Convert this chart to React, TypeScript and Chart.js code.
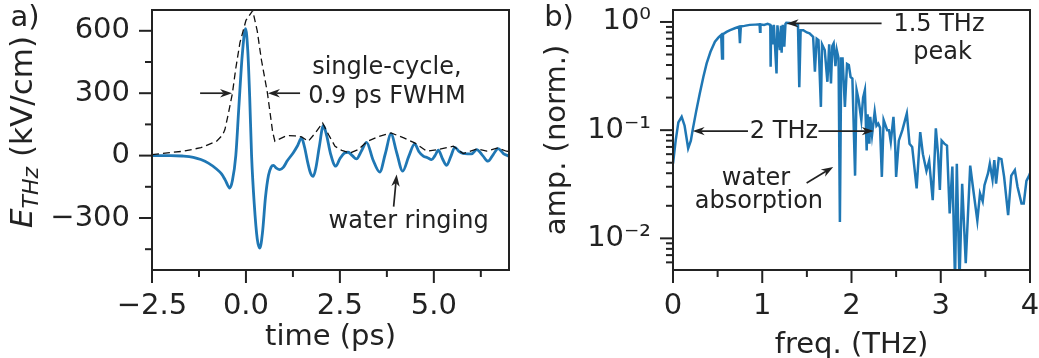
import React, { useEffect, useRef } from 'react';
import { Chart, registerables } from 'chart.js';

Chart.register(...registerables);

const INK = '#222222';
const BLUE = '#1f77b4';
const FONT = "'DejaVu Sans', sans-serif";
const TICK_SIZE = 29;
const NOTE_SIZE = 24;
const YTITLE_A_SIZE = 31;

// ---------- panel a: time-domain field ----------
const timePs = [
  -2.5, -2.0, -1.7, -1.4, -1.2, -1.0, -0.8, -0.65, -0.55, -0.43, -0.36, -0.27, -0.19, -0.1, -0.01,
  0.05, 0.1, 0.15, 0.22, 0.3, 0.37, 0.44, 0.52, 0.6, 0.67, 0.73, 0.81, 0.9, 1.0, 1.1, 1.26, 1.38,
  1.48, 1.56, 1.64, 1.72, 1.79, 1.86, 1.95, 2.06, 2.15, 2.25, 2.39, 2.5, 2.62, 2.72, 2.83, 2.94,
  3.08, 3.21, 3.38, 3.56, 3.71, 3.86, 4.01, 4.17, 4.33, 4.49, 4.6, 4.72, 4.83, 4.94, 5.03, 5.12,
  5.23, 5.34, 5.45, 5.56, 5.67, 5.78, 5.9, 6.0, 6.14, 6.3, 6.44, 6.58, 6.71, 6.85, 7.0,
];
const fieldKVcm = [
  0, 0, -2, -8, -19, -36, -62, -88, -118, -156, -120, 0, 230, 480, 610,
  500, 280, 0, -230, -400, -445, -370, -200, -95, -55, -47, -60, -67, -55, -25, 14, 50,
  85, 40, -30, -85, -100, -60, 40, 144, 95, 10, -51, -15, 12, 16, 0, -16,
  25, 64, -20, -79, 10, 104, 15, -75, -5, 56, 20, -3, -10, -19, 0, 26,
  -15, -47, -5, 40, 20, 10, 8, 8, 29, 0, -27, 5, 34, 10, -3,
];
const envTimePs = [
  -2.5, -1.67, -1.2, -0.78, -0.62, -0.56, -0.47, -0.36, -0.27, -0.16, 0.0, 0.18, 0.3, 0.41,
  0.57, 0.71, 0.77, 0.9, 1.08, 1.3, 1.48, 1.66, 1.85, 2.04, 2.2, 2.37, 2.55, 2.77, 2.99, 3.21,
  3.5, 3.86, 4.2, 4.49, 4.81, 5.12, 5.52, 5.78, 6.14, 6.41, 6.71, 6.93, 7.0,
];
const envFieldKVcm = [
  5, 21, 38, 69, 100, 125, 200, 300, 420, 543, 650, 697, 600, 462,
  303, 114, 69, 80, 96, 95, 90, 69, 110, 157, 100, 45, 25, 13, 29, 66,
  90, 109, 85, 61, 21, 29, 45, 10, 32, 22, 37, 21, 20,
];
const timeTicks = [-2.5, 0, 2.5, 5.0];
const timeTickLabels = ['\u22122.5', '0.0', '2.5', '5.0'];
const timeMinorTicks = [-1.25, 1.25, 3.75, 6.25];
const fieldTicks = [-300, 0, 300, 600];
const fieldTickLabels = ['\u2212300', '0', '300', '600'];
const fieldMinorTicks = [-450, -150, 150, 450];

// ---------- panel b: spectrum ----------
const freqTHz = [
  0.0, 0.03, 0.06, 0.097, 0.13, 0.17, 0.2, 0.22, 0.26, 0.3, 0.34, 0.377, 0.42, 0.47, 0.51, 0.54,
  0.55, 0.56, 0.6, 0.64, 0.7, 0.74, 0.75, 0.76, 0.8, 0.86, 0.92, 0.97, 0.975, 0.98, 1.02, 1.06,
  1.09, 1.094, 1.1, 1.123, 1.13, 1.16, 1.17, 1.198, 1.21, 1.217, 1.23, 1.247, 1.26, 1.27, 1.31,
  1.36, 1.4, 1.415, 1.43, 1.46, 1.5, 1.53, 1.57, 1.59, 1.61, 1.63, 1.657, 1.67, 1.7, 1.73, 1.75,
  1.77, 1.785, 1.8, 1.82, 1.835, 1.855, 1.87, 1.885, 1.9, 1.926, 1.95, 1.97, 1.99, 2.01, 2.04,
  2.057, 2.08, 2.11, 2.13, 2.15, 2.17, 2.18, 2.2, 2.21, 2.23, 2.26, 2.28, 2.3, 2.32, 2.34, 2.36,
  2.4, 2.42, 2.44, 2.47, 2.49, 2.5, 2.53, 2.57, 2.62, 2.65, 2.68, 2.73, 2.77, 2.8, 2.84, 2.87,
  2.91, 2.945, 2.97, 2.99, 3.01, 3.04, 3.07, 3.1, 3.13, 3.16, 3.18, 3.21, 3.24, 3.26, 3.28, 3.33,
  3.36, 3.41, 3.44, 3.47, 3.49, 3.53, 3.55, 3.58, 3.6, 3.62, 3.65, 3.68, 3.71, 3.755, 3.79, 3.83,
  3.86, 3.905, 3.93, 3.96, 3.99, 4.0,
];
const ampNorm = [
  0.049, 0.08, 0.118, 0.133, 0.11, 0.068, 0.08, 0.1, 0.15, 0.218, 0.31, 0.414, 0.53, 0.657, 0.72, 0.758,
  0.46, 0.77, 0.81, 0.84, 0.88, 0.905, 0.635, 0.91, 0.92, 0.94, 0.945, 0.95, 0.81, 0.95, 0.94, 0.96,
  0.94, 0.386, 0.93, 0.635, 0.94, 0.335, 0.93, 0.55, 0.92, 0.52, 0.94, 0.59, 0.96, 0.985, 0.98,
  0.96, 0.95, 0.25, 0.84, 0.84, 0.8, 0.786, 0.73, 0.347, 0.7, 0.68, 0.164, 0.62, 0.55, 0.28, 0.62,
  0.27, 0.6, 0.635, 0.39, 0.55, 0.46, 0.0142, 0.46, 0.46, 0.164, 0.41, 0.4, 0.31, 0.3, 0.038,
  0.235, 0.19, 0.124, 0.2, 0.235, 0.065, 0.14, 0.075, 0.133, 0.09, 0.148, 0.11, 0.115, 0.105, 0.037, 0.124,
  0.1, 0.1, 0.078, 0.133, 0.07, 0.037, 0.08, 0.1, 0.143, 0.075, 0.07, 0.029, 0.096, 0.06, 0.042, 0.052,
  0.0225, 0.104, 0.06, 0.028, 0.08, 0.075, 0.072, 0.017, 0.046, 0.004, 0.049, 0.004, 0.032, 0.0138, 0.0059, 0.047,
  0.03, 0.0146, 0.026, 0.022, 0.031, 0.04, 0.049, 0.035, 0.053, 0.032, 0.055, 0.054, 0.037, 0.0164, 0.038, 0.0427,
  0.03, 0.021, 0.021, 0.034, 0.038, 0.04,
];
const freqTicks = [0, 1, 2, 3, 4];
const freqTickLabels = ['0', '1', '2', '3', '4'];
const freqMinorTicks = [0.5, 1.5, 2.5, 3.5];
const ampTicks = [0.01, 0.1, 1];
const ampTickLabels = ['10\u207B\u00B2', '10\u207B\u00B9', '10\u2070'];
const ampMinorTicks = [
  0.006, 0.007, 0.008, 0.009, 0.02, 0.03, 0.04, 0.05, 0.06, 0.07, 0.08, 0.09,
  0.2, 0.3, 0.4, 0.5, 0.6, 0.7, 0.8, 0.9,
];

type Note = { text: string; x: number; y: number };
type Arrow = { x0: number; y0: number; x1: number; y1: number };

const notesA: Note[] = [
  { text: 'single-cycle,', x: 3.75, y: 424 },
  { text: '0.9 ps FWHM', x: 3.75, y: 284 },
  { text: 'water ringing', x: 4.33, y: -318 },
];
const arrowsA: Arrow[] = [
  { x0: -1.22, y0: 300, x1: -0.37, y1: 300 },
  { x0: 1.44, y0: 300, x1: 0.585, y1: 300 },
  { x0: 3.93, y0: -245, x1: 4.01, y1: -91 },
];
const notesB: Note[] = [
  { text: '1.5 THz', x: 2.98, y: 0.938 },
  { text: 'peak', x: 3.02, y: 0.516 },
  { text: '2 THz', x: 1.243, y: 0.0958 },
  { text: 'water', x: 0.93, y: 0.0352 },
  { text: 'absorption', x: 0.963, y: 0.0216 },
];
const arrowsB: Arrow[] = [
  { x0: 2.337, y0: 0.97, x1: 1.273, y1: 0.97 },
  { x0: 0.84, y0: 0.098, x1: 0.22, y1: 0.098 },
  { x0: 1.63, y0: 0.098, x1: 2.25, y1: 0.098 },
  { x0: 1.497, y0: 0.0325, x1: 1.795, y1: 0.0457 },
];

function drawArrow(ctx: CanvasRenderingContext2D, x0: number, y0: number, x1: number, y1: number) {
  const ang = Math.atan2(y1 - y0, x1 - x0);
  const c = Math.cos(ang), s = Math.sin(ang);
  const hl = 12, hw = 4.2;
  ctx.beginPath();
  ctx.moveTo(x0, y0);
  ctx.lineTo(x1 - c * hl * 0.7, y1 - s * hl * 0.7);
  ctx.stroke();
  ctx.beginPath();
  ctx.moveTo(x1, y1);
  ctx.lineTo(x1 - hl * c + hw * s, y1 - hl * s - hw * c);
  ctx.lineTo(x1 - hl * 0.7 * c, y1 - hl * 0.7 * s);
  ctx.lineTo(x1 - hl * c - hw * s, y1 - hl * s + hw * c);
  ctx.closePath();
  ctx.fill();
}

type DecorCfg = {
  id: string;
  xMajor: number[]; xMinor: number[]; yMajor: number[]; yMinor: number[];
  notes: Note[]; arrows: Arrow[];
  label: string; labelX: number; labelY: number;
  richYTitle?: boolean;
};

function makeDecor(cfg: DecorCfg) {
  return {
    id: cfg.id,
    afterDraw(chart: any) {
      const { ctx, chartArea: a } = chart;
      const sx = chart.scales.x, sy = chart.scales.y;
      ctx.save();
      ctx.strokeStyle = INK;
      ctx.fillStyle = INK;
      ctx.lineWidth = 2;
      ctx.strokeRect(a.left, a.top, a.right - a.left, a.bottom - a.top);
      const MAJ = 13, MIN = 7;
      const seg = (x0: number, y0: number, x1: number, y1: number) => {
        ctx.beginPath(); ctx.moveTo(x0, y0); ctx.lineTo(x1, y1); ctx.stroke();
      };
      cfg.xMajor.forEach((v) => { const p = sx.getPixelForValue(v); seg(p, a.bottom, p, a.bottom + MAJ); });
      cfg.xMinor.forEach((v) => { const p = sx.getPixelForValue(v); seg(p, a.bottom, p, a.bottom + MIN); });
      cfg.yMajor.forEach((v) => { const p = sy.getPixelForValue(v); seg(a.left, p, a.left - MAJ, p); });
      cfg.yMinor.forEach((v) => { const p = sy.getPixelForValue(v); seg(a.left, p, a.left - MIN, p); });

      ctx.font = `${NOTE_SIZE}px ${FONT}`;
      ctx.textAlign = 'center';
      ctx.textBaseline = 'middle';
      cfg.notes.forEach((n) => ctx.fillText(n.text, sx.getPixelForValue(n.x), sy.getPixelForValue(n.y)));
      ctx.lineWidth = 1.7;
      cfg.arrows.forEach((r) =>
        drawArrow(ctx, sx.getPixelForValue(r.x0), sy.getPixelForValue(r.y0), sx.getPixelForValue(r.x1), sy.getPixelForValue(r.y1))
      );

      ctx.font = `${TICK_SIZE}px ${FONT}`;
      ctx.fillText(cfg.label, cfg.labelX, cfg.labelY);

      if (cfg.richYTitle) {
        ctx.save();
        ctx.translate(24, 132);
        ctx.rotate(-Math.PI / 2);
        ctx.textAlign = 'left';
        const fBig = `italic ${YTITLE_A_SIZE}px ${FONT}`;
        const fSub = `italic ${Math.round(YTITLE_A_SIZE * 0.7)}px ${FONT}`;
        const fNorm = `${YTITLE_A_SIZE}px ${FONT}`;
        ctx.font = fBig; const wE = ctx.measureText('E').width;
        ctx.font = fSub; const wS = ctx.measureText('THz').width;
        ctx.font = fNorm; const wR = ctx.measureText(' (kV/cm)').width;
        let x = -(wE + wS + wR) / 2;
        ctx.font = fBig; ctx.fillText('E', x, 0); x += wE;
        ctx.font = fSub; ctx.fillText('THz', x, 8); x += wS;
        ctx.font = fNorm; ctx.fillText(' (kV/cm)', x, 0);
        ctx.restore();
      }
      ctx.restore();
    },
  };
}

const tickFont = { family: FONT, size: TICK_SIZE };

export default function App() {
  const refA = useRef<HTMLCanvasElement>(null);
  const refB = useRef<HTMLCanvasElement>(null);

  useEffect(() => {
    const chartA = new Chart(refA.current!, {
      type: 'line',
      data: {
        datasets: [
          {
            data: envTimePs.map((t, i) => ({ x: t, y: envFieldKVcm[i] })),
            borderColor: '#111111', borderWidth: 1.3, borderDash: [7, 4], pointRadius: 0,
            tension: 0, clip: 0, order: 0,
          } as any,
          {
            data: timePs.map((t, i) => ({ x: t, y: fieldKVcm[i] })),
            borderColor: BLUE, borderWidth: 2.8, pointRadius: 0,
            cubicInterpolationMode: 'monotone', clip: 0, order: 1,
          } as any,
        ],
      },
      options: {
        responsive: false, animation: false, devicePixelRatio: 1,
        layout: { padding: { top: 10, right: 11, left: 0, bottom: 0 } },
        plugins: { legend: { display: false }, tooltip: { enabled: false } },
        scales: {
          x: {
            type: 'linear', min: -2.5, max: 7.0,
            grid: { display: false, drawTicks: false }, border: { display: false },
            afterBuildTicks: (s: any) => { s.ticks = timeTicks.map((v) => ({ value: v })); },
            ticks: { callback: (_v: any, i: number) => timeTickLabels[i], padding: 19, color: INK, font: tickFont, maxRotation: 0, autoSkip: false },
            title: { display: true, text: 'time (ps)', color: INK, font: tickFont, padding: { top: 0, bottom: 3 } },
            afterFit: (s: any) => { s.height = 88; s.paddingLeft = 0; s.paddingRight = 0; },
          },
          y: {
            type: 'linear', min: -550, max: 700,
            grid: { display: false, drawTicks: false }, border: { display: false },
            afterBuildTicks: (s: any) => { s.ticks = fieldTicks.map((v) => ({ value: v })); },
            ticks: { callback: (_v: any, i: number) => fieldTickLabels[i], padding: 22, color: INK, font: tickFont, autoSkip: false },
            afterFit: (s: any) => { s.width = 152; s.paddingTop = 0; s.paddingBottom = 0; },
          },
        },
      } as any,
      plugins: [makeDecor({
        id: 'decorA', xMajor: timeTicks, xMinor: timeMinorTicks, yMajor: fieldTicks, yMinor: fieldMinorTicks,
        notes: notesA, arrows: arrowsA, label: 'a)', labelX: 25, labelY: 18, richYTitle: true,
      })],
    });

    const chartB = new Chart(refB.current!, {
      type: 'line',
      data: {
        datasets: [
          {
            data: freqTHz.map((f, i) => ({ x: f, y: ampNorm[i] })),
            borderColor: BLUE, borderWidth: 2.5, pointRadius: 0, tension: 0, clip: 0,
          } as any,
        ],
      },
      options: {
        responsive: false, animation: false, devicePixelRatio: 1,
        layout: { padding: { top: 10, right: 9, left: 0, bottom: 0 } },
        plugins: { legend: { display: false }, tooltip: { enabled: false } },
        scales: {
          x: {
            type: 'linear', min: 0, max: 4,
            grid: { display: false, drawTicks: false }, border: { display: false },
            afterBuildTicks: (s: any) => { s.ticks = freqTicks.map((v) => ({ value: v })); },
            ticks: { callback: (_v: any, i: number) => freqTickLabels[i], padding: 19, color: INK, font: tickFont, maxRotation: 0, autoSkip: false },
            title: { display: true, text: 'freq. (THz)', color: INK, font: tickFont, padding: { top: 0, bottom: 7.6 } },
            afterFit: (s: any) => { s.height = 100; s.paddingLeft = 0; s.paddingRight = 0; },
          },
          y: {
            type: 'logarithmic', min: 0.0051, max: 1.29,
            grid: { display: false, drawTicks: false }, border: { display: false },
            afterBuildTicks: (s: any) => { s.ticks = ampTicks.map((v) => ({ value: v })); },
            ticks: { callback: (_v: any, i: number) => ampTickLabels[i], padding: 22, color: INK, font: tickFont, autoSkip: false },
            title: { display: true, text: 'amp. (norm.)', color: INK, font: tickFont, padding: { top: 20, bottom: 0 } },
            afterFit: (s: any) => { s.width = 153; s.paddingTop = 0; s.paddingBottom = 0; },
          },
        },
      } as any,
      plugins: [makeDecor({
        id: 'decorB', xMajor: freqTicks, xMinor: freqMinorTicks, yMajor: ampTicks, yMinor: ampMinorTicks,
        notes: notesB, arrows: arrowsB, label: 'b)', labelX: 39, labelY: 18,
      })],
    });

    return () => { chartA.destroy(); chartB.destroy(); };
  }, []);

  return (
    <div style={{ position: 'fixed', left: 0, top: 0, width: 1039, height: 358, overflow: 'hidden', background: '#ffffff' }}>
      <canvas ref={refA} width={520} height={358} style={{ position: 'absolute', left: 0, top: 0 }} />
      <canvas ref={refB} width={519} height={370} style={{ position: 'absolute', left: 520, top: 0 }} />
    </div>
  );
}
